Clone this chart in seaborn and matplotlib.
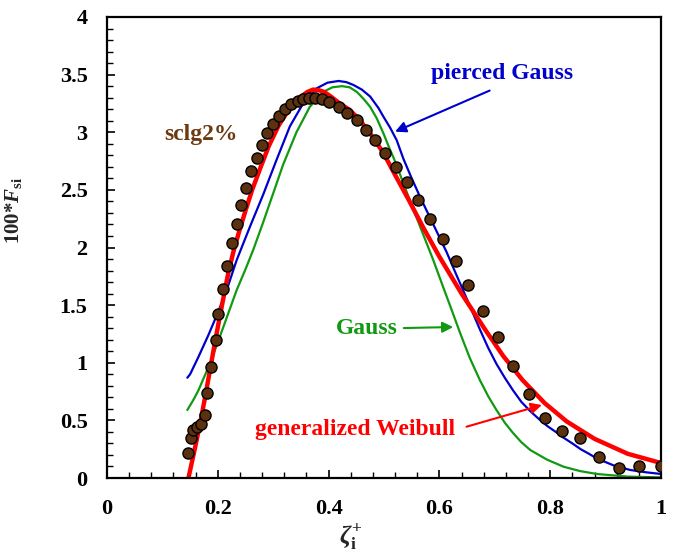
import numpy as np
import pandas as pd
import matplotlib
matplotlib.use("Agg")
import matplotlib.pyplot as plt
import seaborn as sns

# measured points (sclg2%)
pts_x = [0.147, 0.152, 0.156, 0.163, 0.170, 0.176, 0.181, 0.188, 0.197, 0.201,
         0.210, 0.217, 0.226, 0.234, 0.241, 0.251, 0.260, 0.270, 0.279, 0.289,
         0.300, 0.311, 0.322, 0.333, 0.344, 0.354, 0.365, 0.376, 0.388, 0.401,
         0.418, 0.434, 0.451, 0.468, 0.484, 0.502, 0.521, 0.541, 0.562, 0.583,
         0.606, 0.630, 0.652, 0.679, 0.705, 0.732, 0.761, 0.791, 0.822, 0.854,
         0.888, 0.924, 0.961, 1.000]
pts_y = [0.22, 0.35, 0.42, 0.445, 0.466, 0.55, 0.735, 0.966, 1.197, 1.42,
         1.637, 1.84, 2.036, 2.20, 2.37, 2.52, 2.66, 2.78, 2.89, 2.99,
         3.07, 3.14, 3.20, 3.245, 3.27, 3.29, 3.30, 3.30, 3.29, 3.26,
         3.22, 3.17, 3.11, 3.02, 2.93, 2.82, 2.70, 2.57, 2.41, 2.25,
         2.07, 1.88, 1.675, 1.45, 1.22, 0.97, 0.726, 0.52, 0.41, 0.35,
         0.18, 0.084, 0.104, 0.104]

# generalized Weibull (red)
weib_x = [0.147, 0.157, 0.168, 0.177, 0.186, 0.195, 0.204, 0.212, 0.219, 0.228,
          0.238, 0.250, 0.262, 0.276, 0.292, 0.310, 0.330, 0.350, 0.362, 0.372,
          0.382, 0.392, 0.404, 0.420, 0.439, 0.457, 0.475, 0.499, 0.520, 0.545,
          0.570, 0.600, 0.640, 0.685, 0.715, 0.750, 0.790, 0.830, 0.880, 0.940,
          1.000]
weib_y = [0.0, 0.22, 0.47, 0.70, 0.94, 1.18, 1.41, 1.61, 1.78, 1.96,
          2.13, 2.32, 2.50, 2.68, 2.88, 3.06, 3.21, 3.31, 3.35, 3.37,
          3.365, 3.35, 3.31, 3.25, 3.19, 3.10, 2.99, 2.82, 2.63, 2.41,
          2.18, 1.92, 1.60, 1.27, 1.06, 0.85, 0.65, 0.49, 0.34, 0.21,
          0.13]

# pierced Gauss (blue)
pg_x = [0.145, 0.150, 0.165, 0.183, 0.198, 0.216, 0.234, 0.258, 0.282, 0.306,
        0.330, 0.354, 0.378, 0.398, 0.418, 0.432, 0.445, 0.460, 0.475, 0.490,
        0.499, 0.511, 0.523, 0.535, 0.550, 0.565, 0.590, 0.613, 0.630, 0.649,
        0.673, 0.688, 0.703, 0.718, 0.733, 0.748, 0.764, 0.780, 0.795, 0.810,
        0.824, 0.840, 0.855, 0.870, 0.884, 0.914, 0.944, 0.972, 1.000]
pg_y = [0.87, 0.90, 1.05, 1.24, 1.41, 1.63, 1.89, 2.18, 2.46, 2.76,
        3.05, 3.25, 3.38, 3.43, 3.445, 3.435, 3.41, 3.37, 3.31, 3.21,
        3.135, 3.04, 2.93, 2.77, 2.60, 2.44, 2.19, 1.96, 1.77, 1.56,
        1.29, 1.13, 0.99, 0.87, 0.76, 0.66, 0.58, 0.51, 0.45, 0.40,
        0.35, 0.30, 0.25, 0.21, 0.17, 0.11, 0.07, 0.05, 0.035]

# Gauss (green)
g_x = [0.145, 0.155, 0.165, 0.186, 0.210, 0.234, 0.249, 0.264, 0.282, 0.300,
       0.318, 0.342, 0.366, 0.390, 0.407, 0.424, 0.438, 0.451, 0.463, 0.475,
       0.487, 0.499, 0.509, 0.518, 0.530, 0.553, 0.571, 0.589, 0.605, 0.622,
       0.638, 0.655, 0.673, 0.688, 0.703, 0.718, 0.733, 0.748, 0.764, 0.794,
       0.824, 0.854, 0.884, 0.940, 1.000]
g_y = [0.59, 0.67, 0.76, 0.995, 1.31, 1.63, 1.80, 1.98, 2.22, 2.47,
       2.72, 3.00, 3.22, 3.35, 3.39, 3.40, 3.39, 3.35, 3.29, 3.22,
       3.12, 2.99, 2.87, 2.77, 2.62, 2.33, 2.11, 1.89, 1.68, 1.46,
       1.25, 1.04, 0.85, 0.71, 0.59, 0.48, 0.39, 0.31, 0.243, 0.16,
       0.098, 0.06, 0.035, 0.012, 0.005]

sns.set_style("ticks")
plt.rcParams['font.family'] = ['Liberation Serif', 'DejaVu Serif']
plt.rcParams['font.weight'] = 'bold'
plt.rcParams['axes.labelweight'] = 'bold'
plt.rcParams['mathtext.fontset'] = 'custom'
plt.rcParams['mathtext.rm'] = 'Liberation Serif:bold'
plt.rcParams['mathtext.it'] = 'Liberation Serif:bold:italic'
plt.rcParams['mathtext.bf'] = 'Liberation Serif:bold'

fig = plt.figure(figsize=(6.78, 5.55), dpi=100)
ax = fig.add_axes([107 / 678, 77 / 555, 554 / 678, 461 / 555])

sns.lineplot(x=g_x, y=g_y, ax=ax, color='#119911', lw=1.6, sort=False, estimator=None)
sns.lineplot(x=pg_x, y=pg_y, ax=ax, color='#0000cc', lw=1.6, sort=False, estimator=None)
sns.lineplot(x=weib_x, y=weib_y, ax=ax, color='#ff0000', lw=3.2, sort=False, estimator=None)
sns.scatterplot(x=pts_x, y=pts_y, ax=ax, color='#5c310f', edgecolor='black',
                linewidth=1.0, s=64, zorder=5)

ax.set_xlim(0, 1)
ax.set_ylim(0, 4)
ax.set_xticks(np.arange(0, 1.01, 0.2))
ax.set_xticklabels(['0', '0.2', '0.4', '0.6', '0.8', '1'])
ax.set_yticks(np.arange(0, 4.01, 0.5))
ax.set_yticklabels(['0', '0.5', '1', '1.5', '2', '2.5', '3', '3.5', '4'])
ax.set_xticks(np.arange(0, 1.001, 0.04), minor=True)
ax.set_yticks(np.arange(0, 4.001, 0.1), minor=True)
ax.tick_params(axis='both', which='both', direction='in', colors='black')
ax.tick_params(axis='both', which='major', length=6, width=1.2, labelsize=16)
ax.tick_params(axis='both', which='minor', length=4, width=1.0)
ax.tick_params(axis='x', which='major', pad=15)
ax.tick_params(axis='y', which='major', pad=14)
for lab in ax.get_xticklabels() + ax.get_yticklabels():
    lab.set_fontweight('bold')
for sp in ax.spines.values():
    sp.set_visible(True)
    sp.set_linewidth(1.6)
    sp.set_color('black')

ax.set_xlabel(r'$\zeta_{\mathrm{i}}^{+}$', fontsize=18, fontweight='bold')
ax.xaxis.set_label_coords(0.44, -0.095)
ax.set_ylabel(r'100*$F_{\mathrm{si}}$', fontsize=15, fontweight='bold')
ax.yaxis.set_label_coords(-0.15, 0.58)

ax.text(0.17, 2.98, 'sclg2%', color='#6b3a10', fontsize=17, fontweight='bold',
        ha='center', va='center')
ax.annotate('pierced Gauss', xy=(0.520, 3.005), xytext=(0.713, 3.51),
            color='#0000cc', fontsize=17, fontweight='bold', ha='center', va='center',
            arrowprops=dict(arrowstyle='-|>', color='#0000cc', lw=1.5,
                            mutation_scale=16, shrinkA=6, shrinkB=0,
                            relpos=(0.52, 0.0)))
ax.annotate('Gauss', xy=(0.625, 1.31), xytext=(0.469, 1.30),
            color='#119911', fontsize=17, fontweight='bold', ha='center', va='center',
            arrowprops=dict(arrowstyle='-|>', color='#119911', lw=1.5,
                            mutation_scale=16, shrinkA=2, shrinkB=0,
                            relpos=(1.0, 0.5)))
ax.annotate('generalized Weibull', xy=(0.785, 0.633), xytext=(0.448, 0.417),
            color='#ff0000', fontsize=17, fontweight='bold', ha='center', va='center',
            arrowprops=dict(arrowstyle='-|>', color='#ff0000', lw=1.5,
                            mutation_scale=16, shrinkA=6, shrinkB=0,
                            relpos=(1.0, 0.5)))

fig.savefig('out.png', dpi=100)
